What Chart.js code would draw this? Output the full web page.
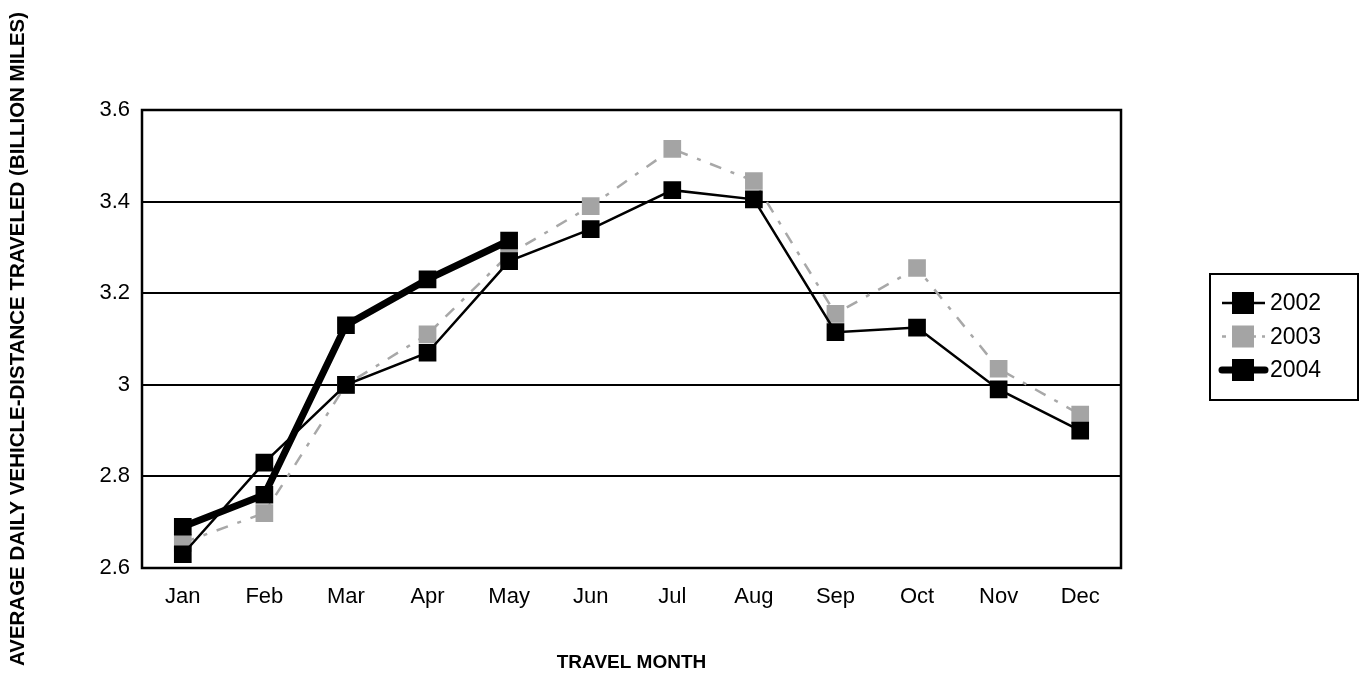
<!DOCTYPE html>
<html>
<head>
<meta charset="utf-8">
<script src="https://cdn.jsdelivr.net/npm/chart.js@4.4.1/dist/chart.umd.min.js"></script>
<style>
  html, body { margin: 0; padding: 0; background: #fff; }
  #wrap { width: 1364px; height: 677px; }
</style>
</head>
<body>
<div id="wrap"><canvas id="lineChart"></canvas></div>
<script>
// Meses del eje X
const months = ['Jan', 'Feb', 'Mar', 'Apr', 'May', 'Jun', 'Jul', 'Aug', 'Sep', 'Oct', 'Nov', 'Dec'];

// Valores (miles de millones de millas por día)
const values2002 = [2.63, 2.83, 3.00, 3.07, 3.27, 3.34, 3.425, 3.405, 3.115, 3.125, 2.99, 2.90];
const values2003 = [2.655, 2.72, 3.00, 3.11, 3.285, 3.39, 3.515, 3.445, 3.155, 3.255, 3.035, 2.935];
const values2004 = [2.69, 2.76, 3.13, 3.23, 3.315, null, null, null, null, null, null, null];

const yTicks = [2.6, 2.8, 3.0, 3.2, 3.4, 3.6];

const FONT = "'Liberation Sans', Arial, sans-serif";

// Marco negro alrededor del área del gráfico
const frame = {
    id: 'frame',
    afterDraw(chart) {
        const { ctx, chartArea: a } = chart;
        ctx.save();
        ctx.strokeStyle = '#000';
        ctx.lineWidth = 2.5;
        ctx.strokeRect(a.left, a.top, a.right - a.left, a.bottom - a.top);
        ctx.restore();
    }
};

// Leyenda con recuadro, línea y marcador como en el original
const boxLegend = {
    id: 'boxLegend',
    afterDraw(chart) {
        const { ctx } = chart;
        const left = chart.chartArea.right + 89, top = 274, w = 148, h = 126;
        ctx.save();
        ctx.fillStyle = '#fff';
        ctx.fillRect(left, top, w, h);
        ctx.strokeStyle = '#000';
        ctx.lineWidth = 2;
        ctx.strokeRect(left, top, w, h);

        chart.data.datasets.forEach((ds, i) => {
            const y = top + 29 + i * 33.5;
            ctx.save();
            ctx.strokeStyle = ds.borderColor;
            ctx.lineWidth = ds.borderWidth;
            ctx.lineCap = ds.borderWidth > 4 ? 'round' : 'butt';
            ctx.setLineDash(ds.borderDash ? [4, 6] : []);
            ctx.beginPath();
            ctx.moveTo(left + 12, y);
            ctx.lineTo(left + 55, y);
            ctx.stroke();
            ctx.restore();
            ctx.fillStyle = ds.pointBackgroundColor;
            ctx.fillRect(left + 22, y - 11, 22, 22);
            ctx.fillStyle = '#000';
            ctx.font = '23px ' + FONT;
            ctx.textBaseline = 'middle';
            ctx.fillText(ds.label, left + 60, y + 1);
        });
        ctx.restore();
    }
};

const ctx = document.getElementById('lineChart').getContext('2d');
new Chart(ctx, {
    type: 'line',
    data: {
        labels: months,
        datasets: [
            {
                label: '2002',
                data: values2002,
                borderColor: '#000',
                borderWidth: 2.5,
                pointStyle: 'rect',
                pointRadius: 12.5,
                pointBackgroundColor: '#000',
                pointBorderWidth: 0,
                order: 1
            },
            {
                label: '2003',
                data: values2003,
                borderColor: '#a8a8a8',
                borderWidth: 2.5,
                borderDash: [12, 10, 4, 10],
                pointStyle: 'rect',
                pointRadius: 12.5,
                pointBackgroundColor: '#a4a4a4',
                pointBorderWidth: 0,
                order: 2
            },
            {
                label: '2004',
                data: values2004,
                borderColor: '#000',
                borderWidth: 7,
                pointStyle: 'rect',
                pointRadius: 12.5,
                pointBackgroundColor: '#000',
                pointBorderWidth: 0,
                order: 0
            }
        ]
    },
    options: {
        responsive: true,
        maintainAspectRatio: false,
        animation: false,
        spanGaps: false,
        layout: { padding: { top: 110, right: 243, left: 0, bottom: 0 } },
        scales: {
            x: {
                offset: true,
                grid: { display: false, drawTicks: false },
                border: { display: false },
                ticks: { color: '#000', font: { family: FONT, size: 22 }, padding: 16, maxRotation: 0 },
                title: {
                    display: true,
                    text: 'TRAVEL MONTH',
                    color: '#000',
                    font: { family: FONT, size: 19, weight: 'bold' },
                    padding: 3
                },
                afterFit(scale) { scale.height = 109; }
            },
            y: {
                min: 2.6,
                max: 3.6,
                afterBuildTicks(scale) { scale.ticks = yTicks.map(v => ({ value: v })); },
                grid: { color: '#000', lineWidth: 2, drawTicks: false },
                border: { display: false },
                ticks: {
                    color: '#000',
                    font: { family: FONT, size: 22 },
                    padding: 12,
                    callback: v => String(Math.round(v * 10) / 10)
                },
                title: {
                    display: true,
                    text: 'AVERAGE DAILY VEHICLE-DISTANCE TRAVELED (BILLION MILES)',
                    color: '#000',
                    font: { family: FONT, size: 20.5, weight: 'bold' },
                    padding: 6
                },
                afterFit(scale) { scale.width = 142; }
            }
        },
        plugins: {
            legend: { display: false },
            tooltip: { enabled: false }
        }
    },
    plugins: [frame, boxLegend]
});
</script>
</body>
</html>
